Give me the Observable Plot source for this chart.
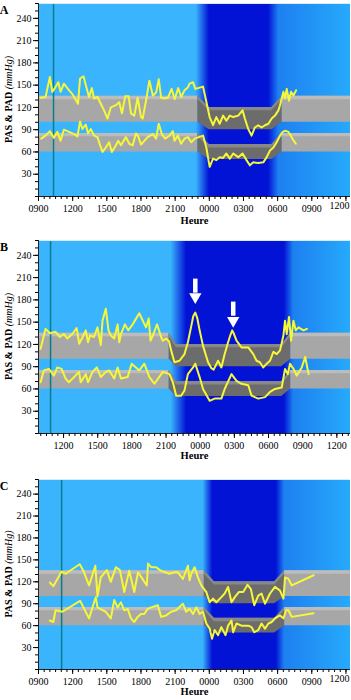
<!DOCTYPE html>
<html><head><meta charset="utf-8">
<script src="https://cdn.jsdelivr.net/npm/d3@7"></script>
<script src="https://cdn.jsdelivr.net/npm/@observablehq/plot@0.6"></script>
<style>
body{margin:0;background:#fff;}
#chart{width:351px;}
#chart svg{display:block;overflow:visible;}
</style></head><body><div id="chart"></div>
<script>
// x = hours after 09:00 on day 1
const hourLabels = ["0900","1200","1500","1800","2100","0000","0300","0600","0900","1200"];
const yTicks = [30,60,90,120,150,180,210,240];

// normal-range bands (mmHg): [low, high]
const sysDay = [100,135], sysNight = [90,120];
const diaDay = [60,85], diaNight = [50,70];

// Panel A
const aSys = [[0.18,133],[0.62,134],[1.0,161],[1.21,141],[1.44,146],[1.74,154],[1.94,141],[2.23,152],[2.53,146],[2.97,138],[3.47,125],[3.65,159],[3.95,162],[4.24,145],[4.44,134],[4.68,146],[4.88,132],[5.18,134],[5.47,125],[5.76,116],[6.06,105],[6.35,120],[6.8,123],[7.09,127],[7.33,112],[7.62,135],[7.92,135],[8.12,112],[8.41,109],[8.71,133],[9.0,107],[9.15,105],[9.44,129],[9.74,156],[10.04,136],[10.33,140],[10.56,158],[10.77,133],[11.06,132],[11.36,133],[11.69,145],[11.96,131],[12.27,146],[12.53,134],[12.82,143],[13.12,147],[13.27,152],[13.57,154],[13.77,145],[14.45,148],[15.03,107],[15.33,96],[15.62,107],[15.91,98],[16.21,109],[16.5,102],[16.8,109],[17.1,107],[17.54,109],[17.92,116],[18.12,105],[18.42,91],[18.71,82],[19.0,93],[19.3,96],[19.59,93],[19.89,96],[20.19,98],[20.48,105],[20.77,109],[21.07,116],[21.21,123],[21.51,141],[21.65,132],[21.8,145],[22.0,129],[22.18,141],[22.39,136],[22.62,143]];
const aDia = [[0.24,78],[0.62,82],[1.0,88],[1.35,79],[1.65,87],[1.94,75],[2.23,90],[2.67,87],[3.12,84],[3.42,81],[3.65,101],[3.86,91],[4.15,97],[4.35,85],[4.59,91],[4.88,82],[5.18,80],[5.41,69],[5.62,60],[5.91,66],[6.2,73],[6.44,60],[6.8,69],[7.0,75],[7.24,69],[7.68,80],[7.97,71],[8.27,69],[8.56,85],[8.76,81],[9.0,70],[9.29,75],[9.59,80],[10.04,84],[10.33,78],[10.56,98],[10.83,84],[11.12,78],[11.5,82],[11.8,88],[11.94,75],[12.24,82],[12.53,71],[12.82,78],[13.12,80],[13.42,73],[13.71,78],[14.45,82],[14.74,66],[15.03,40],[15.33,51],[15.62,49],[15.91,53],[16.21,52],[16.5,58],[16.8,51],[17.1,58],[17.54,53],[17.92,58],[18.27,49],[18.56,42],[18.86,46],[19.3,45],[19.74,46],[20.04,53],[20.33,62],[20.63,66],[20.92,73],[21.21,82],[21.45,87],[21.65,88.5],[21.95,87],[22.15,82],[22.33,77],[22.6,71]];

// Panel B
const bSys = [[0.98,114],[1.42,141],[1.80,135],[2.30,137],[2.68,130],[3.03,134],[3.33,128],[3.77,134],[4.15,142],[4.37,121],[4.68,130],[4.95,139],[5.15,123],[5.33,132],[5.68,130],[5.98,143],[6.27,119],[6.42,152],[6.71,168],[6.95,139],[7.15,132],[7.45,128],[7.75,147],[7.89,123],[8.04,134],[8.39,147],[8.68,139],[9.07,147],[9.65,162],[10.24,143],[10.48,155],[10.64,125],[10.84,132],[11.21,147],[11.57,130],[11.72,125],[12.01,128],[12.27,124],[12.45,112],[12.74,96],[13.18,98],[13.62,107],[13.92,123],[14.22,145],[14.39,158],[14.57,163],[14.75,155],[14.95,139],[15.25,118],[15.69,96],[15.98,88],[16.18,86],[16.57,98],[16.86,89],[17.15,107],[17.45,123],[17.66,133],[17.81,139],[17.97,134],[18.19,125],[18.63,116],[19.22,116],[19.66,107],[19.95,98],[20.24,96],[20.54,89],[20.84,94],[21.13,98],[21.43,110],[21.72,107],[22.01,112],[22.31,132],[22.45,152],[22.60,134],[22.80,157],[22.98,125],[23.19,152],[23.39,139],[23.63,143],[24.07,139],[24.37,141]];
const bDia = [[0.98,69],[1.27,85],[1.71,87],[2.15,78],[2.45,89],[2.83,87],[3.18,74],[3.47,69],[3.92,76],[4.36,83],[4.51,69],[4.95,80],[5.15,69],[5.54,83],[5.92,89],[6.27,76],[6.71,83],[7.0,85],[7.45,74],[7.75,89],[8.04,74],[8.63,76],[8.98,94],[9.65,85],[10.09,94],[10.54,76],[10.98,67],[11.72,83],[12.3,80],[12.6,69],[12.89,51],[13.33,51],[13.62,58],[13.92,80],[14.37,89],[14.57,94],[14.95,76],[15.25,60],[15.83,44],[16.27,47],[16.86,47],[17.15,60],[17.75,80],[18.19,71],[18.63,67],[19.22,65],[19.51,51],[20.10,47],[20.69,49],[21.13,56],[21.57,60],[22.16,62],[22.45,87],[22.69,80],[22.89,94],[23.19,87],[23.48,78],[23.92,89],[24.22,103],[24.52,80]];

// Panel C
const cSys = [[1.0,119],[1.3,114],[1.77,127],[2.03,134],[2.38,131],[3.62,144],[3.97,134],[4.44,115],[4.99,142],[5.18,100],[5.47,126],[6.0,136],[6.35,120],[6.8,140],[7.15,136],[7.53,106],[7.97,135],[8.41,106],[8.74,133],[9.09,125],[9.51,115],[9.62,145],[9.89,140],[10.33,140],[10.77,135],[11.5,131],[11.94,133],[12.24,133],[12.68,124],[13.12,142],[13.27,122],[13.42,131],[13.71,140],[14.0,126],[14.3,115],[14.74,106],[15.03,92],[15.33,97],[15.62,92],[16.06,99],[16.35,104],[16.65,113],[16.95,92],[17.24,99],[17.59,106],[17.98,106],[18.36,116],[18.65,110],[18.95,88],[19.3,101],[19.59,104],[19.89,90],[20.33,104],[20.77,113],[21.21,108],[21.51,97],[21.65,126],[21.95,124],[22.24,115],[24.16,129]];
const cDia = [[1.0,67],[1.3,65],[1.5,81],[2.09,79],[3.65,94],[4.44,70],[5.03,99],[5.18,85],[5.91,79],[6.35,70],[6.65,95],[6.95,85],[7.24,92],[7.53,81],[7.83,83],[8.12,70],[8.41,65],[8.71,72],[9.0,76],[9.29,76],[9.59,83],[9.89,85],[10.48,88],[10.77,72],[11.21,74],[11.65,79],[12.09,81],[12.68,90],[12.97,79],[13.27,83],[13.57,76],[13.86,85],[14.15,76],[14.45,79],[14.74,63],[15.03,56],[15.24,42],[15.47,54],[15.77,47],[16.06,58],[16.42,47],[16.65,60],[16.95,67],[17.1,51],[17.39,63],[17.83,60],[18.42,60],[18.71,58],[18.95,51],[19.3,54],[19.59,63],[19.89,56],[20.19,63],[20.48,65],[20.77,70],[21.21,74],[21.51,70],[21.74,81],[21.95,81],[22.24,72],[24.16,77]];

// night phases (hours): band [dayEnd, nightStart, nightEnd, dayStart]; sky [lightEnd, deepStart, deepEnd, midStart]
const aBand = [14.0,15.0,20.5,21.4], aSky = [13.85,15.0,20.2,21.1];
const bBand = [12.27,12.9,22.16,22.95], bSky = [12.45,13.8,22.4,23.2];
const cBand = [14.56,15.45,20.74,21.62], cSky = [14.45,15.3,20.9,21.6];
const markerTimes = {A: 1.32, B: 1.86, C: 2.03};
const bArrows = [[14.57, 208, 189, 184], [17.9, 177, 158, 152]]; // x, shaft top, shaft bottom, head centre

const YELLOW = "#f7f73a";

function bandMarks(ph, dom, day, night) {
  const [e, ns, ne, s] = ph;
  const L = [[dom[0], ...day], [e, ...day]];
  const M = [[e, ...day], [ns, ...night], [ne, ...night], [s, ...day]];
  const R = [[s, ...day], [dom[1], ...day]];
  const o = (fill) => ({x: d => d[0], y1: d => d[1], y2: d => d[2], fill});
  const t = (fill) => ({x: d => d[0], y1: d => d[2] - 4.5, y2: d => d[2], fill});
  return [
    Plot.areaY(L, o("#a7a7a7")), Plot.areaY(L, t("#bcbcbc")),
    Plot.areaY(M, o("#6c6c6c")), Plot.areaY(M, t("#888888")),
    Plot.areaY(R, o("#a7a7a7")), Plot.areaY(R, t("#bcbcbc"))
  ];
}

function panel({letter, dom, sys, dia, band, sky, height, mb, heureDy, arrows}) {
  const gid = "sky" + letter;
  const W = 351, ML = 38, MR = 1;
  const px = h => ML + (h - dom[0]) / (dom[1] - dom[0]) * (W - ML - MR);
  const xt = hourLabels.map((_, i) => i * 3).filter(h => h >= dom[0] - 1e-9 && h <= dom[1]);
  const fits = h => px(h) + 10 <= W;
  const edge = xt.filter(h => !fits(h));
  const minor = d3.range(Math.ceil(dom[0] * 2) / 2, dom[1], 0.5);
  const marks = [
    Plot.rect([0], {x1: () => dom[0], x2: () => dom[1], y1: () => 0, y2: () => 260, fill: `url(#${gid})`}),
    ...bandMarks(band, dom, sysDay, sysNight),
    ...bandMarks(band, dom, diaDay, diaNight),
    Plot.ruleX([markerTimes[letter]], {stroke: "#0a7d8c", strokeWidth: 1.5}),
    Plot.line(sys, {x: d => d[0], y: d => d[1], stroke: YELLOW, strokeWidth: 2}),
    Plot.line(dia, {x: d => d[0], y: d => d[1], stroke: YELLOW, strokeWidth: 2}),
    Plot.ruleY([260], {stroke: "#d6ecfc", strokeWidth: 1}),
    Plot.ruleY([0], {stroke: "#222"}),
    Plot.ruleX([dom[0]], {stroke: "#222"}),
    Plot.axisY(d3.range(0, 261, 10), {tickSize: 3, tickFormat: () => "", label: null}),
    Plot.axisY(yTicks, {tickSize: 5, tickPadding: 2, label: null, fontSize: 10}),
    Plot.axisX(minor, {tickSize: 3, tickFormat: () => "", label: null}),
    Plot.axisX(xt, {tickSize: 5, tickPadding: 3, label: null, fontSize: 10,
      tickFormat: h => fits(h) ? hourLabels[Math.round(h / 3)] : ""}),
    Plot.text(edge, {x: () => dom[1], frameAnchor: "bottom", textAnchor: "end", dx: -1, dy: 12.5, fontSize: 10,
      text: h => hourLabels[Math.round(h / 3)]}),
    Plot.text(["Heure"], {frameAnchor: "bottom", dy: heureDy, fontWeight: "bold", fontSize: 10.5})
  ];
  if (arrows) {
    marks.push(Plot.ruleX(arrows, {x: d => d[0], y1: d => d[1], y2: d => d[2], stroke: "white", strokeWidth: 4.5}));
    marks.push(Plot.dot(arrows, {x: d => d[0], y: d => d[3], symbol: "triangle", r: 4.6, fill: "white", rotate: 180}));
  }
  const svg = Plot.plot({
    width: W, height, marginLeft: ML, marginRight: MR, marginTop: 3, marginBottom: mb,
    x: {domain: dom}, y: {domain: [0, 260]},
    style: {fontFamily: "'Liberation Serif', 'Times New Roman', serif", fontSize: "10px", color: "#000", background: "transparent"},
    marks
  });
  const sel = d3.select(svg);
  const frac = h => (h - dom[0]) / (dom[1] - dom[0]);
  const g = sel.insert("defs", ":first-child").append("linearGradient").attr("id", gid)
    .attr("x1", 0).attr("x2", 1).attr("y1", 0).attr("y2", 0);
  [[0, "#3ab4fc"], [frac(sky[0]), "#3ab4fc"], [frac(sky[1]), "#0313d6"], [frac(sky[2]), "#0313d6"], [frac(sky[3]), "#1d80f0"], [1, "#26aafc"]]
    .forEach(([o, c]) => g.append("stop").attr("offset", o).attr("stop-color", c));
  const plotH = height - 3 - mb;
  const lab = sel.append("text").attr("transform", `translate(12,${3 + plotH / 2}) rotate(-90)`)
    .attr("text-anchor", "middle").attr("font-family", "'Liberation Serif', serif").attr("font-size", 10);
  lab.append("tspan").attr("font-weight", "bold").text("PAS & PAD ");
  lab.append("tspan").attr("font-style", "italic").text("(mmHg)");
  sel.append("text").attr("x", 4).attr("y", 14).attr("font-family", "'Liberation Serif', serif")
    .attr("font-size", 12).attr("font-weight", "bold").text(letter);
  return svg;
}

const chart = document.getElementById("chart");
chart.append(panel({letter: "A", dom: [0, 27.4], sys: aSys, dia: aDia, band: aBand, sky: aSky, height: 237, mb: 41, heureDy: 27}));
chart.append(panel({letter: "B", dom: [0.8, 28.2], sys: bSys, dia: bDia, band: bBand, sky: bSky, height: 239, mb: 43, heureDy: 25, arrows: bArrows}));
chart.append(panel({letter: "C", dom: [0, 27.4], sys: cSys, dia: cDia, band: cBand, sky: cSky, height: 224, mb: 31, heureDy: 25}));
</script>
</body></html>
